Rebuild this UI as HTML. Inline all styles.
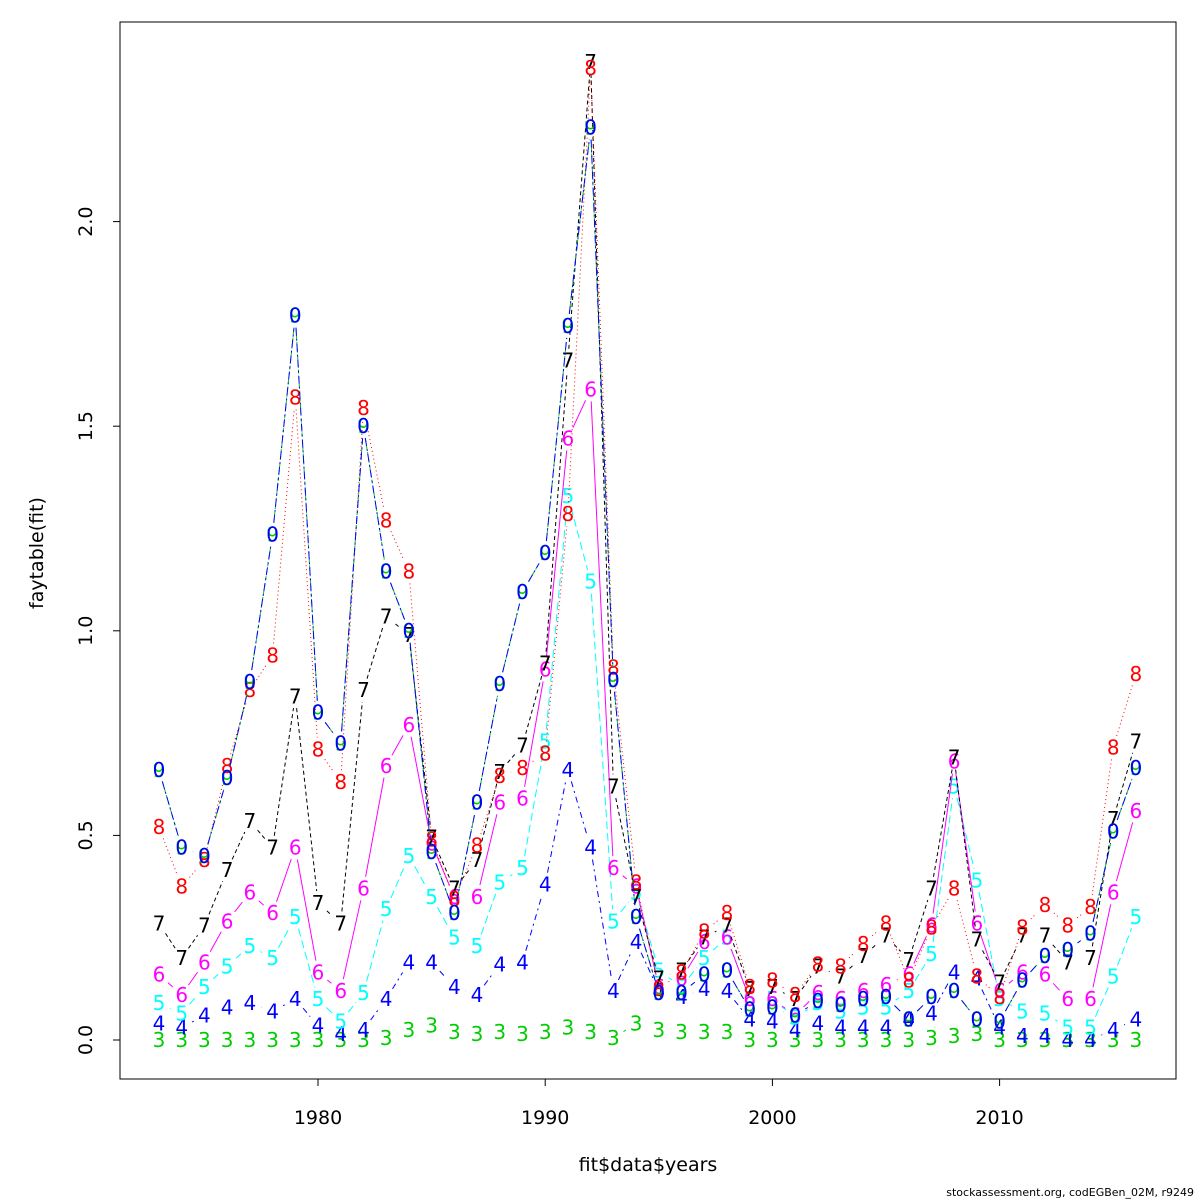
<!DOCTYPE html>
<html><head><meta charset="utf-8"><style>
html,body{margin:0;padding:0;background:#fff;}
svg{display:block;font-family:"DejaVu Sans","Liberation Sans",sans-serif;}
</style></head><body>
<svg id="chart" width="1200" height="1200" viewBox="0 0 1200 1200" xmlns="http://www.w3.org/2000/svg">
<rect x="0" y="0" width="1200" height="1200" fill="#fff"/>
<rect x="120" y="22" width="1056" height="1057" fill="none" stroke="#000" stroke-width="1"/>
<g id="axes"></g>
<g id="series"></g>
<text x="648" y="1171" font-size="19" text-anchor="middle">fit$data$years</text>
<text x="43" y="553" font-size="19" text-anchor="middle" transform="rotate(-90 43 553)">faytable(fit)</text>
<text x="1194" y="1196" font-size="11" text-anchor="end">stockassessment.org, codEGBen_02M, r9249</text>
</svg>
<script>
const years = [];
for (let y = 1973; y <= 2016; y++) years.push(y);
const xTicks = [1980, 1990, 2000, 2010];
const yTicks = [0, 0.5, 1, 1.5, 2];
const yTickLabels = ["0.0", "0.5", "1.0", "1.5", "2.0"];
const seriesLabels = ["3", "4", "5", "6", "7", "8", "9", "0"];
const age3 = [0,0,0,0,0,0,0,0,0,0,0.005,0.025,0.035,0.02,0.015,0.02,0.015,0.02,0.03,0.02,0.005,0.04,0.025,0.02,0.02,0.02,0,0,0,0,0,0,0,0,0.005,0.01,0.015,0,0,0,0,0,0,0];
const age4 = [0.04,0.03,0.06,0.08,0.09,0.07,0.10,0.035,0.015,0.025,0.10,0.19,0.19,0.13,0.11,0.185,0.19,0.38,0.66,0.47,0.12,0.24,0.12,0.105,0.125,0.12,0.05,0.045,0.025,0.04,0.03,0.03,0.03,0.05,0.065,0.165,0.15,0.03,0.01,0.01,0,0,0.025,0.05];
const age5 = [0.09,0.065,0.13,0.18,0.23,0.20,0.30,0.10,0.045,0.115,0.32,0.45,0.35,0.25,0.23,0.385,0.42,0.73,1.33,1.12,0.29,0.36,0.17,0.13,0.2,0.25,0.1,0.1,0.055,0.09,0.07,0.08,0.08,0.12,0.21,0.62,0.39,0.1,0.07,0.065,0.03,0.03,0.155,0.30];
const age6 = [0.16,0.11,0.19,0.29,0.36,0.31,0.47,0.165,0.12,0.37,0.67,0.77,0.48,0.35,0.35,0.58,0.59,0.905,1.47,1.59,0.42,0.375,0.13,0.15,0.24,0.25,0.1,0.1,0.06,0.115,0.10,0.12,0.135,0.16,0.28,0.68,0.285,0.12,0.165,0.16,0.10,0.10,0.36,0.56];
const age7 = [0.285,0.20,0.28,0.415,0.535,0.47,0.84,0.335,0.285,0.855,1.035,0.99,0.495,0.37,0.44,0.655,0.72,0.92,1.66,2.39,0.62,0.35,0.15,0.17,0.25,0.28,0.125,0.13,0.1,0.18,0.155,0.205,0.255,0.195,0.37,0.69,0.245,0.14,0.255,0.255,0.19,0.2,0.54,0.73];
const age8 = [0.52,0.375,0.44,0.67,0.855,0.94,1.57,0.71,0.63,1.545,1.27,1.145,0.49,0.345,0.475,0.645,0.665,0.70,1.285,2.375,0.91,0.385,0.125,0.165,0.265,0.31,0.13,0.145,0.11,0.185,0.18,0.235,0.285,0.145,0.275,0.37,0.155,0.105,0.275,0.33,0.28,0.325,0.715,0.895];
const age9 = [0.66,0.47,0.45,0.64,0.875,1.235,1.77,0.80,0.725,1.50,1.145,1.0,0.46,0.31,0.58,0.87,1.095,1.19,1.745,2.23,0.88,0.30,0.115,0.115,0.16,0.17,0.075,0.08,0.06,0.095,0.085,0.1,0.105,0.05,0.105,0.12,0.05,0.045,0.145,0.205,0.22,0.26,0.51,0.665];
const age10 = age9.slice();

const X = y => 318 + (y - 1980) * 22.72;
const Y = v => 1040 - v * 409.2;
const NS = "http://www.w3.org/2000/svg";
function mk(tag, attrs, parent) {
  const e = document.createElementNS(NS, tag);
  for (const k in attrs) e.setAttribute(k, attrs[k]);
  parent.appendChild(e);
  return e;
}
const axes = document.getElementById("axes");
xTicks.forEach(t => {
  const l = mk("line", {x1: X(t), x2: X(t), y1: 1079, y2: 1086, stroke: "#000"}, axes);
  
  
  const tx = mk("text", {x: X(t), y: 1124, "font-size": 19, "text-anchor": "middle"}, axes);
  tx.textContent = String(t);
  
  
});
yTicks.forEach((t, i) => {
  const l = mk("line", {x1: 113, x2: 120, y1: Y(t), y2: Y(t), stroke: "#000"}, axes);
  
  
  const tx = mk("text", {x: 92, y: Y(t), "font-size": 19, "text-anchor": "middle", transform: `rotate(-90 92 ${Y(t)})`}, axes);
  tx.textContent = yTickLabels[i];
  
  
});

const allSeries = [age3, age4, age5, age6, age7, age8, age9, age10];
const colors = ["#00cd00", "#0000ff", "#00ffff", "#ff00ff", "#000000", "#ff0000", "#00cd00", "#0000ff"];
const dashes = ["", "6,4,2,4", "8,4", "", "4,3", "1,3", "4,3", "8,3,2,3"];
const GAP = 12;
const sg = document.getElementById("series");
allSeries.forEach((vals, si) => {
  const g = mk("g", {}, sg);
  
  
  let d = "";
  for (let i = 0; i < vals.length - 1; i++) {
    const x1 = X(years[i]), y1 = Y(vals[i]), x2 = X(years[i + 1]), y2 = Y(vals[i + 1]);
    const dx = x2 - x1, dy = y2 - y1, len = Math.hypot(dx, dy);
    if (len <= 2 * GAP) continue;
    const ux = dx / len, uy = dy / len;
    d += `M${(x1 + ux * GAP).toFixed(1)},${(y1 + uy * GAP).toFixed(1)}L${(x2 - ux * GAP).toFixed(1)},${(y2 - uy * GAP).toFixed(1)}`;
  }
  const pl = mk("path", {d: d, fill: "none", stroke: colors[si], "stroke-width": 1, "stroke-dasharray": dashes[si]}, g);
  
  
  vals.forEach((v, i) => {
    const t = mk("text", {x: X(years[i]), y: Y(v) + 7, "font-size": 20, "text-anchor": "middle", fill: colors[si]}, g);
    t.textContent = seriesLabels[si];
    
    
  });
});
</script>
</body></html>
